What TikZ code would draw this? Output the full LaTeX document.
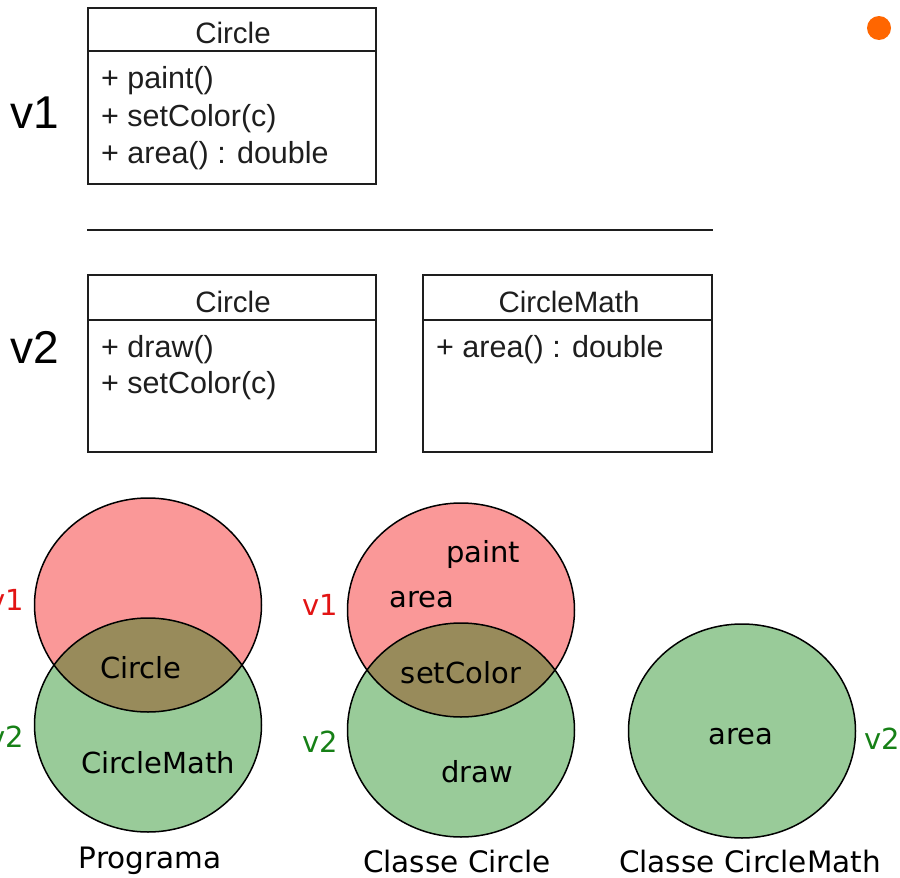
\documentclass[tikz,border=0pt]{standalone}
\usepackage{fontspec}
\setmainfont{Liberation Sans}
\newfontfamily\vennfont{DejaVu Sans}
\definecolor{vennred}{RGB}{250,152,152}
\definecolor{venngreen}{RGB}{153,203,153}
\definecolor{vennboth}{RGB}{152,139,91}
\definecolor{labred}{RGB}{226,20,20}
\definecolor{labgreen}{RGB}{22,128,22}
\definecolor{umlline}{RGB}{30,30,30}
\definecolor{dotorange}{RGB}{255,102,0}
\begin{document}
\begin{tikzpicture}[x=1pt,y=-1pt,
  umlbox/.style={draw=umlline, line width=1.5pt, minimum width=288pt,
    minimum height=176pt, inner sep=0pt, anchor=north west},
  umltext/.style={font=\fontsize{30.5}{30.5}\selectfont, text=umlline,
    inner sep=0pt, anchor=base west},
  umltitle/.style={font=\fontsize{29.5}{29.5}\selectfont, text=umlline,
    inner sep=0pt, anchor=base},
  verlabel/.style={font=\fontsize{46}{46}\selectfont, inner sep=0pt,
    anchor=base west},
  venntext/.style={font=\vennfont\fontsize{29}{29}\selectfont,
    inner sep=0pt, anchor=base},
  captext/.style={font=\vennfont\fontsize{29.5}{29.5}\selectfont,
    inner sep=0pt, anchor=base},
  venn/.style={draw=black, line width=1.5pt},
]
\useasboundingbox (0,0) rectangle (900,878);

% ---------- version 1 ----------
\node[verlabel] (lv1) at (10,128) {v1};
\node[umlbox] (c1) at (87,7) {};
\draw[umlline, line width=1.5pt] ([yshift=-44pt]c1.north west) -- ([yshift=-44pt]c1.north east);
\node[umltitle] (c1t) at (233,43) {Circle};
\node[umltext] (c1a) at (101,88) {+ paint()};
\node[umltext] (c1b) at (101,126) {+ setColor(c)};
\node[umltext] (c1c) at (101,163) {+ area() : double};

% separator
\coordinate (sepL) at (87,230);
\coordinate (sepR) at (713,230);
\draw[umlline, line width=1.5pt] (sepL) -- (sepR);

% ---------- version 2 ----------
\node[verlabel] (lv2) at (10,363) {v2};
\node[umlbox, minimum height=177pt] (c2) at (87,274) {};
\draw[umlline, line width=1.5pt] ([yshift=-46pt]c2.north west) -- ([yshift=-46pt]c2.north east);
\node[umltitle] (c2t) at (233,312) {Circle};
\node[umltext] (c2a) at (101,357) {+ draw()};
\node[umltext] (c2b) at (101,393) {+ setColor(c)};

\node[umlbox, minimum width=289pt, minimum height=177pt] (m2) at (422,274) {};
\draw[umlline, line width=1.5pt] ([yshift=-46pt]m2.north west) -- ([yshift=-46pt]m2.north east);
\node[umltitle] (m2t) at (569,312) {CircleMath};
\node[umltext] (m2a) at (436,357) {+ area() : double};

% orange marker
\node[circle, fill=dotorange, minimum size=24pt, inner sep=0pt] (dot) at (879,28) {};

% ---------- Venn: program ----------
\def\rx{113.5}\def\ry{107}
\fill[vennred] (148,605) ellipse [x radius=\rx, y radius=\ry];
\fill[venngreen] (148,725) ellipse [x radius=\rx, y radius=\ry];
\begin{scope}
  \clip (148,605) ellipse [x radius=\rx, y radius=\ry];
  \fill[vennboth] (148,725) ellipse [x radius=\rx, y radius=\ry];
\end{scope}
\draw[venn] (148,605) ellipse [x radius=\rx, y radius=\ry];
\draw[venn] (148,725) ellipse [x radius=\rx, y radius=\ry];
\node[venntext] (pCircle) at (141,678) {Circle};
\node[venntext] (pMath) at (158,773) {CircleMath};
\node[captext] (pCap) at (150,868) {Programa};
\node[venntext, text=labred, anchor=base east] (pv1) at (24,610) {v1};
\node[venntext, text=labgreen, anchor=base east] (pv2) at (24,747) {v2};

% ---------- Venn: class Circle ----------
\fill[vennred] (461,610) ellipse [x radius=\rx, y radius=\ry];
\fill[venngreen] (461,730) ellipse [x radius=\rx, y radius=\ry];
\begin{scope}
  \clip (461,610) ellipse [x radius=\rx, y radius=\ry];
  \fill[vennboth] (461,730) ellipse [x radius=\rx, y radius=\ry];
\end{scope}
\draw[venn] (461,610) ellipse [x radius=\rx, y radius=\ry];
\draw[venn] (461,730) ellipse [x radius=\rx, y radius=\ry];
\node[venntext] (cPaint) at (483,562) {paint};
\node[venntext] (cArea) at (422,607) {area};
\node[venntext] (cSet) at (461,683) {setColor};
\node[venntext] (cDraw) at (477,782) {draw};
\node[captext] (cCap) at (457,872) {Classe Circle};
\node[venntext, text=labred, anchor=base east] (cv1) at (338,615) {v1};
\node[venntext, text=labgreen, anchor=base east] (cv2) at (338,752) {v2};

% ---------- Venn: class CircleMath ----------
\fill[venngreen] (742,731) ellipse [x radius=\rx, y radius=\ry];
\draw[venn] (742,731) ellipse [x radius=\rx, y radius=\ry];
\node[venntext] (mArea) at (741,744) {area};
\node[captext] (mCap) at (750,872) {Classe CircleMath};
\node[venntext, text=labgreen, anchor=base west] (mv2) at (864,749) {v2};
\end{tikzpicture}
\end{document}
